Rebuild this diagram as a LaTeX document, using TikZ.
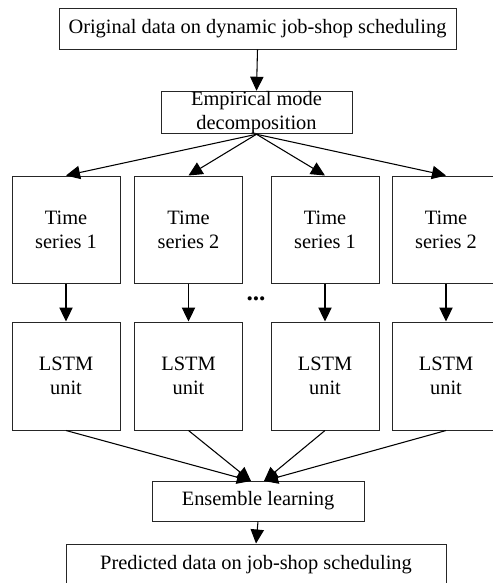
\documentclass[tikz,border=0pt]{standalone}
\usepackage{fontspec}
\setmainfont{Liberation Serif}
\usetikzlibrary{arrows.meta}
\begin{document}
\begin{tikzpicture}[x=0.75pt,y=-0.75pt,
  every node/.style={font=\fontsize{15.3pt}{18pt}\selectfont},
  box/.style={draw=black!85, line width=0.75pt, inner sep=0pt, align=center},
  conn/.style={line width=0.8pt, -{Triangle[length=10.5pt,width=10pt]}}]
  \useasboundingbox (0,0) rectangle (493,583);
  \clip (0,0) rectangle (493,583);
  % top row
  \node[box, minimum width=397*0.75pt, minimum height=41*0.75pt] (orig) at (257.5,28.5)
    {Original data on dynamic job-shop scheduling};
  \node[box, minimum width=191*0.75pt, minimum height=41*0.75pt] (emd) at (256.5,112.5)
    {Empirical mode\\decomposition};
  % decomposed series and their LSTM units
  \foreach \i/\x/\n in {1/66/1, 2/188.5/2, 3/325/1, 4/446/2} {
    \node[box, minimum width=108*0.75pt, minimum height=107*0.75pt] (ts\i) at (\x,229.5)
      {Time\\series \n};
    \node[box, minimum width=108*0.75pt, minimum height=108*0.75pt] (lstm\i) at (\x,376)
      {LSTM\\unit};
  }
  \node[font=\fontsize{19pt}{20pt}\selectfont\bfseries] (dots) at (256,299) {...};
  % merging and output
  \node[box, minimum width=212*0.75pt, minimum height=40*0.75pt] (ens) at (258,501)
    {Ensemble learning};
  \node[box, minimum width=380*0.75pt, minimum height=41*0.75pt] (pred) at (256,564.5)
    {Predicted data on job-shop scheduling};
  \coordinate (ensL) at (251,481);
  \coordinate (ensR) at (264,481);
  % connectors
  \draw[conn] (orig.south) -- (emd.north);
  \foreach \i in {1,...,4} {
    \draw[conn] (emd.south) -- (ts\i.north);
    \draw[conn] (ts\i.south) -- (lstm\i.north);
  }
  \draw[conn] (lstm1.south) -- (ensL);
  \draw[conn] (lstm2.south) -- (ensL);
  \draw[conn] (lstm3.south) -- (ensR);
  \draw[conn] (lstm4.south) -- (ensR);
  \draw[conn] (ens.south) -- (pred.north);
\end{tikzpicture}
\end{document}
